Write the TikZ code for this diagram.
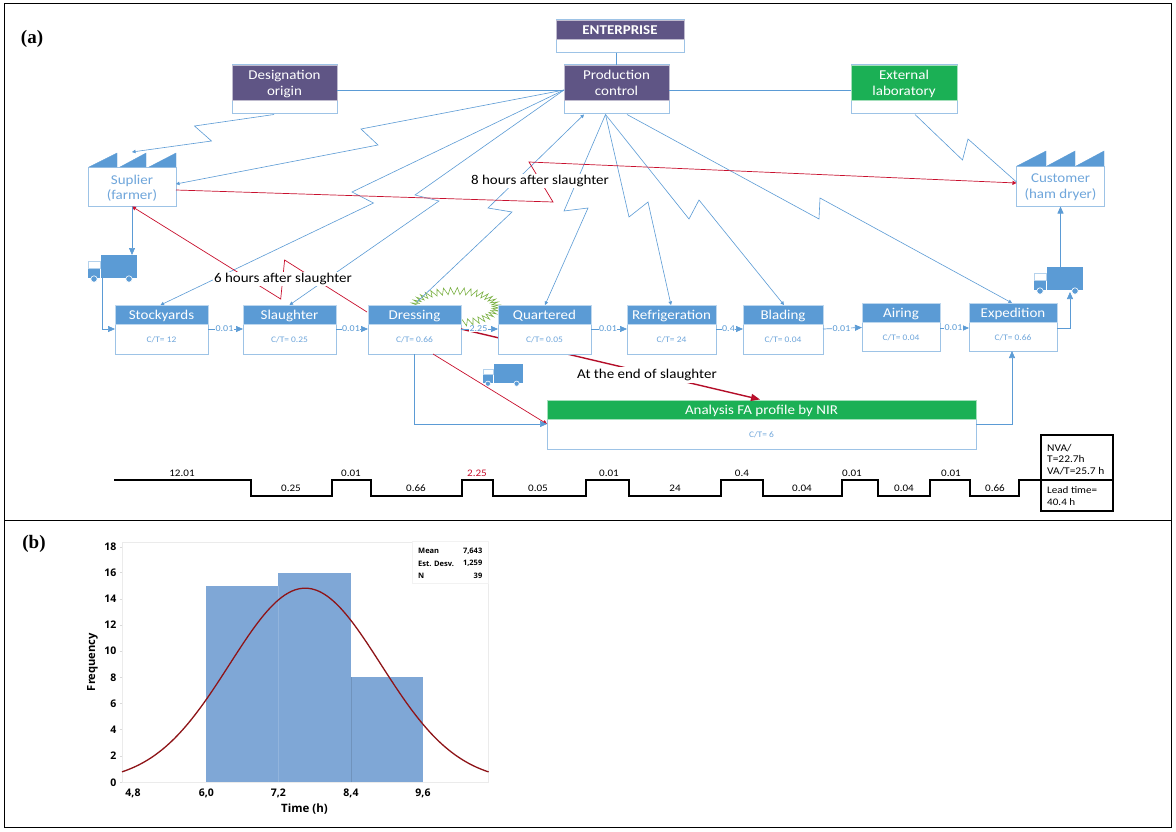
\documentclass[tikz,border=0pt]{standalone}
\usepackage{fontspec}
\setmainfont[FakeStretch=1.11]{Carlito}
\newfontfamily\serifb{Liberation Serif}
\newfontfamily\chartf{Open Sans}
\usetikzlibrary{arrows.meta,calc}
\definecolor{lnblue}{HTML}{5B9BD5}
\definecolor{bdblue}{HTML}{9DC3E6}
\definecolor{txblue}{HTML}{6FA6DB}
\definecolor{purp}{HTML}{5F5585}
\definecolor{grn}{HTML}{1BB055}
\definecolor{redl}{HTML}{C8102E}
\definecolor{barb}{HTML}{7FA7D6}
\definecolor{curv}{HTML}{8E1418}
\definecolor{burst}{HTML}{7AB042}
\tikzset{
  flow/.style={draw=lnblue,line width=.7pt},
  elec/.style={draw=lnblue,line width=.6pt},
  tipb/.style={-{Triangle[length=7pt,width=6pt,fill=lnblue]}},
  tips/.style={-{Triangle[length=3.5pt,width=3.5pt,fill=lnblue]}},
  redw/.style={draw=redl,line width=.7pt,-{Triangle[length=4pt,width=4pt,fill=redl]}},
  redt/.style={draw=redl!90!black,line width=1.4pt,-{Triangle[length=9pt,width=7pt,fill=redl]}},
  bodyb/.style={draw=bdblue,line width=1pt,fill=white,inner sep=0pt,outer sep=0pt},
  headb/.style={draw=#1!40!white,line width=.8pt,fill=#1,inner sep=0pt,outer sep=0pt},
  headt/.style={text=white,align=center,inner sep=0pt,font=\fontsize{13.5}{16}\selectfont},
  factt/.style={text=txblue,align=center,inner sep=0pt,font=\fontsize{13.5}{15.7}\selectfont},
  ctlab/.style={text=txblue,font=\fontsize{8.5}{10}\selectfont,inner sep=0pt},
  linklab/.style={text=lnblue,fill=white,font=\fontsize{9}{10}\selectfont,inner sep=.5pt},
  notel/.style={fill=white,text=black,font=\fontsize{13.5}{15}\selectfont,inner sep=1.5pt},
  tll/.style={text=black,font=\fontsize{10}{12}\selectfont,inner sep=0pt},
  tline/.style={draw=black,line width=2pt,line join=miter},
  axl/.style={font=\chartf\bfseries\fontsize{10.5}{12}\selectfont,inner sep=0pt},
  legl/.style={font=\chartf\bfseries\fontsize{7.5}{9}\selectfont,inner sep=0pt},
  tooth/.style={fill=lnblue,draw=lnblue,line width=.3pt},
}
% name, x1, x2, ytop, ysplit, ybottom, header colour, title, body text
\newcommand{\procbox}[9]{%
  \pgfmathsetmacro{\cxx}{(#2+#3)/2}\pgfmathsetmacro{\wdd}{#3-#2}%
  \pgfmathsetmacro{\cya}{(#4+#6)/2}\pgfmathsetmacro{\hha}{#6-#4}%
  \pgfmathsetmacro{\cyb}{(#4+#5)/2}\pgfmathsetmacro{\hhb}{#5-#4}%
  \pgfmathsetmacro{\cyc}{(#5+#6)/2+1}\pgfmathsetmacro{\cyd}{\cyb+1.8}%
  \node[bodyb,minimum width=\wdd pt,minimum height=\hha pt] (#1) at (\cxx,\cya) {};
  \node[headb=#7,minimum width=\wdd pt,minimum height=\hhb pt] (#1h) at (\cxx,\cyb) {};
  \node[headt] (#1l) at (\cxx,\cyd) {#8};
  \node[ctlab] (#1t) at (\cxx,\cyc) {#9};
}
% name, left x of cab, top y, scale
\newcommand{\truck}[4]{%
  \begin{scope}[shift={(#2,#3)},scale=#4]
    \draw[draw=lnblue!45!white,line width=.5pt] (0,6) rectangle (12,13);
    \fill[lnblue] (0,13.5) rectangle (12,23);
    \fill[lnblue] (13,0) rectangle (49,23);
    \coordinate (#1n) at (31,0);
    \fill[lnblue,draw=white,line width=.6pt] (6,24) circle (3.2);
    \fill[lnblue,draw=white,line width=.6pt] (41,24) circle (3.2);
  \end{scope}
}
\begin{document}
\begin{tikzpicture}[x=1pt,y=-1pt]
\useasboundingbox (0,0) rectangle (1176,832);
\fill[white] (0,0) rectangle (1176,832);
\draw[black,line width=1pt] (4,4) rectangle (1171,827);
\draw[black,line width=1pt] (4,520) -- (1171,520);
\node[font=\serifb\bfseries\fontsize{19}{21}\selectfont,inner sep=0pt] (la) at (32,39) {(a)};
\node[font=\serifb\bfseries\fontsize{19}{21}\selectfont,inner sep=0pt] (lb) at (34,544) {(b)};

% kaizen burst
\draw[draw=burst,line width=.6pt,line join=miter]
  plot[domain=0:79,samples=80] ({455+(41+3.5*(1-2*mod(round(\x),2)))*cos(4.5*\x-150)},{307+(16+3.5*(1-2*mod(round(\x),2)))*sin(4.5*\x-150)}) -- cycle;

% boxes
\procbox{ent}{556}{684}{20}{39}{53}{purp}{\bfseries\strut ENTERPRISE}{}
\procbox{pc}{564}{669}{65}{100}{114}{purp}{\strut Production\\\strut control}{}
\procbox{doc}{232}{337}{65}{100}{114}{purp}{\strut Designation\\\strut origin}{}
\procbox{lab}{851}{957}{65}{100}{114}{grn}{\strut External\\\strut laboratory}{}

\procbox{sto}{115}{208}{305}{324}{354}{lnblue}{\strut Stockyards}{C/T= 12}
\procbox{sla}{243}{336}{305}{324}{354}{lnblue}{\strut Slaughter}{C/T= 0.25}
\procbox{dre}{368}{461}{305}{324}{354}{lnblue}{\strut Dressing}{C/T= 0.66}
\procbox{ref}{627}{716}{305}{324}{354}{lnblue}{\strut Refrigeration}{C/T= 24}
\procbox{bla}{743}{823}{305}{324}{354}{lnblue}{\strut Blading}{C/T= 0.04}
\procbox{air}{862}{940}{303}{322}{351}{lnblue}{\strut Airing}{C/T= 0.04}
\procbox{exp}{969}{1057}{303}{322}{351}{lnblue}{\strut Expedition}{C/T= 0.66}
\procbox{nir}{547}{976}{400}{419}{449}{grn}{\strut Analysis FA profile by NIR}{C/T= 6}

% factories
\node[bodyb,minimum width=88pt,minimum height=39pt] (sup) at (132,187) {};
\node[factt] (supl) at (132,188.8) {\strut Suplier\\\strut(farmer)};
\fill[tooth] (89,167) -- (117,153) -- (117,167) -- cycle;
\fill[tooth] (120,167) -- (146,153) -- (146,167) -- cycle;
\fill[tooth] (149,167) -- (176,153) -- (176,167) -- cycle;
\node[bodyb,minimum width=88pt,minimum height=40pt] (cus) at (1060.5,186.5) {};
\node[factt] (cusl) at (1060.5,187.6) {\strut Customer\\\strut(ham dryer)};
\fill[tooth] (1017,166) -- (1046,151) -- (1046,166) -- cycle;
\fill[tooth] (1047,166) -- (1075,151) -- (1075,166) -- cycle;
\fill[tooth] (1076,166) -- (1104,151) -- (1104,166) -- cycle;

% trucks
\truck{ta}{88}{255}{1}
\truck{tc}{1034}{267}{1}

% plain links
\draw[flow] (ent.south -| pc.north) -- (pc.north);
\draw[flow] (doc.east |- 0,90) -- (pc.west |- 0,90);
\draw[flow] (pc.east |- 0,90) -- (lab.west |- 0,90);

% electronic links
\coordinate (pcw) at (564,90);
\coordinate (pcs) at (605.5,114.5);
\draw[elec,tips] (274,114.5) -- (194.5,126) -- (211.5,141) -- (132,152);
\draw[elec,tips] (pcw) -- (361,129) -- (378,145) -- (sup.east |- 0,184);
\draw[elec,tips] (pcw) -- (352,192) -- (373.5,203) -- ([xshift=-1pt]sto.north);
\draw[elec,tips] (pcw) -- (415,195) -- (439,201) -- (sla.north);
\draw[elec,tips] (417,302) -- (512,212) -- (488,208) -- (584,114.5);
\draw[elec,tips] (pcs) -- (564,211) -- (588,208) -- (545,305);
\draw[elec,tips] (pcs) -- (629,217) -- (648,202) -- ([xshift=-.5pt]ref.north);
\draw[elec,tips] (pcs) -- (689,219) -- (699,200) -- ([xshift=1pt]bla.north);
\draw[elec,tips] (627,114.5) -- (819,219) -- (820,198) -- (1012,303);
\draw[elec] (915,114.5) -- (962.5,160) -- (968,139) -- (1016.5,182);

% red links
\draw[redw] ([yshift=-3pt]sup.east) -- (553,202) -- (529,162) -- (cus.west |- 0,183);
\draw[redw] (367,312) -- (284.6,260) -- (280.7,299) -- (sup.south);
\draw[redw] (433,354) -- (547,424);
\draw[redt] (461,329) -- (760,399.5);

\truck{tb}{483}{364}{.82}
% the thick line runs behind this box
\procbox{qua}{498}{591}{305}{324}{354}{lnblue}{\strut Quartered}{C/T= 0.05}

\node[notel] (n8) at (540,181) {8 hours after slaughter};
\node[notel] (n6) at (283,279) {6 hours after slaughter};
\node[notel,inner sep=2pt] (nend) at (647,375) {At the end of slaughter};

% material flow
\draw[flow,tipb] (sup.south) -- (sup.south |- tan);
\draw[flow,tipb] (102,278) -- (102,329) -- (sto.west |- 0,329);
\draw[flow,tipb] (cus.south |- tcn) -- (cus.south);
\draw[flow,tipb] (dre.south) -- (414.5,424) -- (nir.west |- 0,424);
\draw[flow,tipb] (976,424) -- (1012,424) -- (1012,351);
\draw[flow,tipb] (exp.east |- 0,328) -- (1070,328) -- (1070,292);

% process links
\draw[flow,tipb] (sto.east |- 0,329) -- (sla.west |- 0,329) node[linklab,midway,xshift=-1pt] (la1) {0.01};
\draw[flow,tipb] (sla.east |- 0,329) -- (dre.west |- 0,329) node[linklab,midway,xshift=-1pt] (la2) {0.01};
\draw[flow,tipb] (dre.east |- 0,329) -- (qua.west |- 0,329) node[linklab,midway,xshift=-1pt] (la3) {2.25};
\draw[flow,tipb] (qua.east |- 0,329) -- (ref.west |- 0,329) node[linklab,midway,xshift=-1pt] (la4) {0.01};
\draw[flow,tipb] (ref.east |- 0,329) -- (bla.west |- 0,329) node[linklab,midway,xshift=-1pt] (la5) {0.4};
\draw[flow,tipb] (bla.east |- 0,329) -- (air.west |- 0,327.5) node[linklab,midway,xshift=-1pt] (la6) {0.01};
\draw[flow,tipb] (air.east |- 0,328) -- (exp.west |- 0,328) node[linklab,midway,xshift=-1pt] (la7) {0.01};

% timeline
\node[draw=black,line width=2pt,minimum width=72pt,minimum height=76pt,inner sep=0pt,outer sep=0pt] (sum) at (1077,473) {};
\draw[black,line width=2pt] (1041,480) -- (1113,480);
\draw[tline] (114,480) -- (251,480) -- (251,495.5) -- (331.5,495.5) -- (331.5,480) -- (371,480) -- (371,495.5) -- (462,495.5) -- (462,480) -- (493,480) -- (493,495.5) -- (586,495.5) -- (586,480) -- (628.5,480) -- (628.5,495.5) -- (721,495.5) -- (721,480) -- (763,480) -- (763,495.5) -- (842,495.5) -- (842,480) -- (878,480) -- (878,495.5) -- (930,495.5) -- (930,480) -- (970,480) -- (970,495.5) -- (1019,495.5) -- (1019,480) -- (sum.west |- 0,480);
\node[tll] (t1) at (182,473) {12.01};
\node[tll] (t2) at (291,488) {0.25};
\node[tll] (t3) at (351,473) {0.01};
\node[tll] (t4) at (416,488) {0.66};
\node[tll,text=redl] (t5) at (477,473) {2.25};
\node[tll] (t6) at (538,488) {0.05};
\node[tll] (t7) at (609,473) {0.01};
\node[tll] (t8) at (675,488) {24};
\node[tll] (t9) at (742,473) {0.4};
\node[tll] (t10) at (802,488) {0.04};
\node[tll] (t11) at (852,473) {0.01};
\node[tll] (t12) at (904,488) {0.04};
\node[tll] (t13) at (951,473) {0.01};
\node[tll] (t14) at (995,488) {0.66};
\node[tll,anchor=west,align=left,font=\fontsize{10.3}{11.7}\selectfont] (s1) at (1047,459.5) {NVA/\\T=22.7h\\VA/T=25.7 h};
\node[tll,anchor=west,align=left,font=\fontsize{10}{12}\selectfont] (s2) at (1047,496.5) {Lead time=\\40.4 h};

% histogram
\draw[black!8,line width=.7pt] (122,542) rectangle (488.7,782.5);
\fill[barb] (206.3,782) rectangle (278.3,586);
\fill[barb] (278.3,782) rectangle (351,572.7);
\fill[barb] (351,782) rectangle (423,677.3);
\draw[barb!85!white,line width=.4pt] (278.3,782) -- (278.3,586);
\draw[barb!88!black,line width=.4pt] (351,782) -- (351,677.3);
\draw[curv,line width=1.3pt] plot[domain=4.6:10.69,samples=90,smooth] ({206.3+(\x-6)*60.2},{782.3-13.09*14.83*exp(-((\x-7.643)^2)/3.170)});
\node[fill=white,draw=black!5,line width=.5pt,minimum width=76.7pt,minimum height=41.3pt,inner sep=0pt] (leg) at (450.3,562.3) {};
\node[legl,anchor=west] (l1) at (418,551) {Mean};
\node[legl,anchor=east] (l1v) at (482.5,551) {7,643};
\node[legl,anchor=west] (l2) at (418,563.7) {Est. Desv.};
\node[legl,anchor=east] (l2v) at (482.5,563.7) {1,259};
\node[legl,anchor=west] (l3) at (418,576) {N};
\node[legl,anchor=east] (l3v) at (482.5,576) {39};
\foreach \v/\y in {0/782.5,2/756,4/729.7,6/703.5,8/677.3,10/651,12/625,14/599,16/572.7,18/547}{
  \node[axl,anchor=east] (y\v) at (116.5,\y) {\v};
  \draw[black!15,line width=.5pt] (119.5,\y) -- (122,\y);
}
\node[axl] (xa) at (133,793.5) {4,8};
\node[axl] (xb) at (206.3,793.5) {6,0};
\node[axl] (xc) at (278.3,793.5) {7,2};
\node[axl] (xd) at (351,793.5) {8,4};
\node[axl] (xe) at (423,793.5) {9,6};
\node[font=\chartf\bfseries\fontsize{11.5}{13}\selectfont,inner sep=0pt] (xt) at (304.5,809.5) {Time (h)};
\node[font=\chartf\bfseries\fontsize{11.2}{13}\selectfont,inner sep=0pt,rotate=90] (yt) at (92.5,662) {Frequency};
\end{tikzpicture}
\end{document}
